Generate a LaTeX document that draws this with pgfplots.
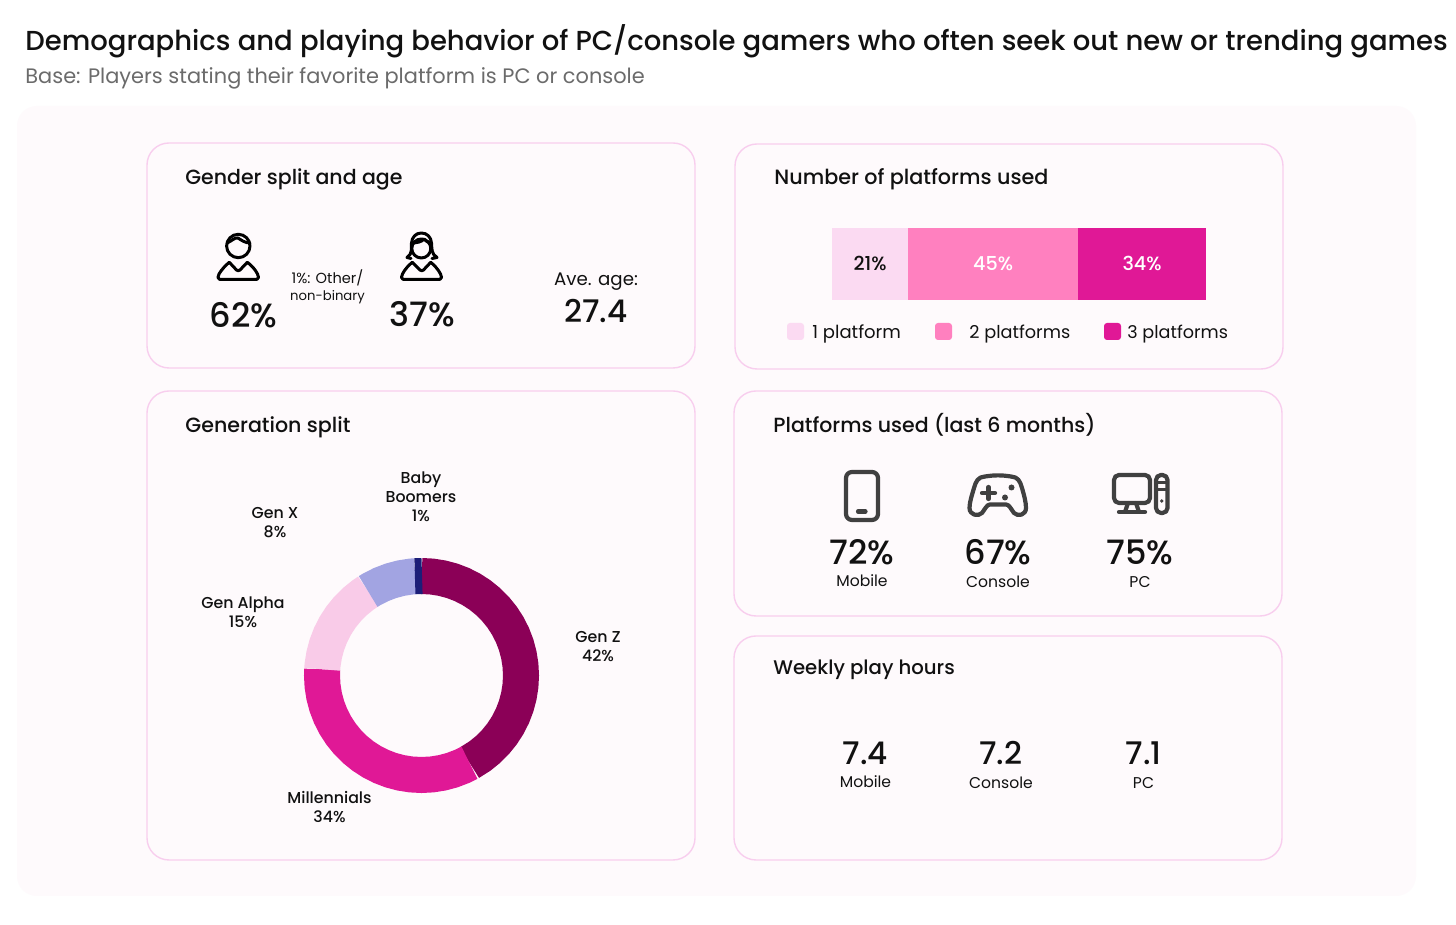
\documentclass[border=0pt]{standalone}
\usepackage{pgfplots}
\pgfplotsset{compat=1.18}
\usepgfplotslibrary{polar}
\usepackage{fontspec}
\setmainfont{Poppins}
\newfontfamily\med{Poppins Medium}
\newcommand{\fs}[2][1.2]{\fontsize{#2}{#1em}\selectfont}
\definecolor{panelbg}{HTML}{FEFAFC}
\definecolor{panelline}{HTML}{F8CEEE}
\definecolor{one}{HTML}{FBDAF2}
\definecolor{two}{HTML}{FF80BF}
\definecolor{three}{HTML}{E01896}
\definecolor{genz}{HTML}{8B0057}
\definecolor{genalpha}{HTML}{F9CBE8}
\definecolor{genx}{HTML}{A2A4E2}
\definecolor{boomer}{HTML}{1C1E78}
\definecolor{icon}{HTML}{404040}
\definecolor{ink}{HTML}{111111}
\tikzset{
  t/.style={inner sep=0pt,text=ink,align=center},
  l/.style={t,anchor=west},
  panel/.style={draw=panelline,line width=0.7pt,rounded corners=11pt},
  donut label/.style={t,font=\med\fontsize{7.9}{9.5}\selectfont},
  big/.style={t,font=\med\fs{16.8}},
  num/.style={t,font=\med\fs{15.6}},
  small/.style={t,font=\fs{7.8}},
}
\begin{document}
\begin{tikzpicture}
% everything that is not data is placed in reference pixels
\begin{scope}[x=0.5pt,y=-0.5pt,shift={(0pt,462.5pt)}]
\useasboundingbox (0,0) rectangle (1456,925);
\fill[white] (0,0) rectangle (1456,925);
\fill[panelbg,rounded corners=10pt] (17,106) rectangle (1416,896);
\draw[panel] (147,143) rectangle (695,368);
\draw[panel] (147,391) rectangle (695,860);
\draw[panel] (735,144) rectangle (1283,369);
\draw[panel] (734,391) rectangle (1282,616);
\draw[panel] (734,636) rectangle (1282,860);

\node[l,font=\med\fs{13.74}] at (25,41) {Demographics and playing behavior of PC/console gamers who often seek out new or trending games};
\node[l,text=black!58,font=\fs{10.45}] at (25,78) {Base: Players stating their favorite platform is PC or console};

\node[l,font=\med\fs{10.25}] at (185,179) {Gender split and age};
\node[l,font=\med\fs{10.35}] at (774,179) {Number of platforms used};
\node[l,font=\med\fs{10.3}] at (185,427) {Generation split};
\node[l,font=\med\fs{10.25}] at (773,425) {Platforms used (last 6 months)};
\node[l,font=\med\fs{9.85}] at (773,670) {Weekly play hours};

% gender
\node[big] at (243.5,315) {62\%};
\node[big] at (422,314) {37\%};
\node[t,font=\fontsize{7.3}{8.5}\selectfont] at (327.5,287) {1\%: Other/\\\fontsize{6.6}{8.5}\selectfont non-binary};
\node[t,font=\fs{9.1}] at (596,282) {Ave. age:};
\node[num] at (596,311) {27.4};
\begin{scope}[line width=1.5pt,black,line join=round,line cap=round]
  \draw (238.3,246) circle[radius=11.7];
  \draw (227,243) .. controls (232,241) and (235,237) .. (238,238) .. controls (241,240) and (245,243) .. (250,243);
  \draw (219.5,279.3) .. controls (217.5,279.3) and (217.5,276) .. (219,274) .. controls (222,269) and (226,265) .. (229.3,262.3) -- (236.5,270) .. controls (237.5,271) and (239,271) .. (240,270) -- (247.3,262.3) .. controls (251,265) and (255,269) .. (257.5,274) .. controls (259,276) and (259,279.3) .. (257,279.3) -- cycle;
  \draw (421.3,248.5) circle[radius=9.5];
  \draw (407,257.5) .. controls (413,254) and (411,247) .. (411.5,243) .. controls (412,237) and (416,233) .. (421.3,233) .. controls (427,233) and (431,237) .. (431.5,243) .. controls (432,248) and (431,254) .. (437,257.5) -- (432,258.5);
  \draw (407,257.5) -- (411,258.5);
  \draw (411.5,243) .. controls (416,243) and (422,242) .. (424,239) .. controls (426,241) and (428,243) .. (431.5,243);
  \draw (403,279.3) .. controls (401,279.3) and (401,276) .. (402.5,274) .. controls (405,269) and (409,265) .. (412.3,262.3) -- (420,270) .. controls (421,271) and (422.5,271) .. (423.5,270) -- (430.7,262.3) .. controls (434,265) and (438,269) .. (440.5,274) .. controls (442,276) and (442,279.3) .. (440,279.3) -- cycle;
\end{scope}

% legend of the stacked bar
\fill[one,rounded corners=1.5pt] (787,323) rectangle (804,340);
\fill[two,rounded corners=1.5pt] (935,323) rectangle (952,340);
\fill[three,rounded corners=1.5pt] (1104,323) rectangle (1121,340);
\node[l,font=\fs{9}] at (812,334) {1 platform};
\node[l,font=\fs{8.85}] at (969,334) {2 platforms};
\node[l,font=\fs{8.8}] at (1127,334) {3 platforms};

% donut labels
\node[donut label] at (598,647) {Gen Z\\42\%};
\node[donut label] at (329.5,807) {Millennials\\34\%};
\node[donut label] at (243,612) {Gen Alpha\\15\%};
\node[donut label] at (275,523) {Gen X\\8\%};
\node[donut label] at (421,497) {Baby\\Boomers\\1\%};

% platforms
\node[big] at (862,552) {72\%};
\node[big] at (998,552) {67\%};
\node[big] at (1140,552) {75\%};
\node[small] at (862,581) {Mobile};
\node[small] at (998,582) {Console};
\node[small] at (1140,582) {PC};
\begin{scope}[line width=2.1pt,icon,line join=round,line cap=round]
  \draw[rounded corners=3pt] (846,472) rectangle (878,520);
  \draw (858,511.5) -- (865.5,511.5);
  \draw (985,476.5) .. controls (995,475) and (1001,475) .. (1011,476.5)
     .. controls (1018,477) and (1020,481) .. (1022,488)
     .. controls (1024,495) and (1026,502) .. (1026,508)
     .. controls (1026,515) and (1018,517) .. (1014,513)
     .. controls (1011,509) and (1009,504.5) .. (1006,504.5)
     -- (990,504.5)
     .. controls (987,504.5) and (985,509) .. (982,513)
     .. controls (978,517) and (969.5,515) .. (969.5,508)
     .. controls (969.5,502) and (972,495) .. (974,488)
     .. controls (976,481) and (978,477) .. (985,476.5) -- cycle;
  \draw (982,493) -- (995,493) (988.5,487) -- (988.5,499);
  \fill (1011.5,487.5) circle[radius=3];
  \fill (1005,497.5) circle[radius=3];
  \draw[rounded corners=2.5pt] (1114,475) rectangle (1150,503);
  \draw (1128,503) -- (1125,512) (1136,503) -- (1139,512);
  \draw (1119,512) -- (1145,512);
  \draw[rounded corners=2.5pt] (1156,475) rectangle (1167.5,513);
  \draw[line width=1.5pt] (1156,483) -- (1167.5,483) (1156,490) -- (1167.5,490);
  \fill (1161.7,501) circle[radius=1.8];
\end{scope}

% weekly hours
\node[num] at (865.5,753) {7.4};
\node[num] at (1001,753) {7.2};
\node[num] at (1143.5,753) {7.1};
\node[small] at (865.5,782) {Mobile};
\node[small] at (1001,783) {Console};
\node[small] at (1143.5,783) {PC};
\end{scope}

% stacked bar: reference pixels x 832-1206, y 228-300
\begin{axis}[
    at={(416pt,312.5pt)},
    anchor=south west,
    scale only axis,
    width=187pt,
    height=36pt,
    xbar stacked,
    bar width=36pt,
    xmin=0, xmax=100,
    ymin=0.5, ymax=1.5,
    hide axis,
    clip=false,
    point meta=explicit symbolic,
    nodes near coords,
    nodes near coords align={center},
    every node near coord/.append style={font=\med\fs{9.6},text height=7pt,text depth=0pt},
]
\addplot[fill=one,draw=none,nodes near coords style={text=ink}] coordinates {(20.4,1)[21\%]};
\addplot[fill=two,draw=none,nodes near coords style={text=white}] coordinates {(45.4,1)[45\%]};
\addplot[fill=three,draw=none,nodes near coords style={text=white}] coordinates {(34.2,1)[34\%]};
\end{axis}

% donut: centre at pixel (421.5,675.5), ring drawn as a wide line at radius 99.5
\begin{polaraxis}[
    at={(210.75pt,124.75pt)},
    anchor=center,
    scale only axis,
    width=100pt,
    height=100pt,
    xmin=0, xmax=360,
    ymin=0, ymax=100,
    hide axis,
    clip=false,
    every axis plot/.append style={line width=18pt,no markers},
]
\addplot[genz] coordinates {(90,99.5) (84,99.5) (78,99.5) (72,99.5) (66,99.5) (60,99.5) (54,99.5) (48,99.5) (42,99.5) (36,99.5) (30,99.5) (24,99.5) (18,99.5) (12,99.5) (6,99.5) (0,99.5) (-6,99.5) (-12,99.5) (-18,99.5) (-24,99.5) (-30,99.5) (-36,99.5) (-42,99.5) (-48,99.5) (-54,99.5) (-61.2,99.5)};
\addplot[three] coordinates {(-61.2,99.5) (-66,99.5) (-72,99.5) (-78,99.5) (-84,99.5) (-90,99.5) (-96,99.5) (-102,99.5) (-108,99.5) (-114,99.5) (-120,99.5) (-126,99.5) (-132,99.5) (-138,99.5) (-144,99.5) (-150,99.5) (-156,99.5) (-162,99.5) (-168,99.5) (-174,99.5) (-180,99.5) (-183.6,99.5)};
\addplot[genalpha] coordinates {(-183.6,99.5) (-186,99.5) (-192,99.5) (-198,99.5) (-204,99.5) (-210,99.5) (-216,99.5) (-222,99.5) (-228,99.5) (-234,99.5) (-237.6,99.5)};
\addplot[genx] coordinates {(-237.6,99.5) (-240,99.5) (-246,99.5) (-252,99.5) (-258,99.5) (-264,99.5) (-266.4,99.5)};
\addplot[boomer] coordinates {(-266.2,99.5) (-270.3,99.5)};
\end{polaraxis}
\end{tikzpicture}
\end{document}
